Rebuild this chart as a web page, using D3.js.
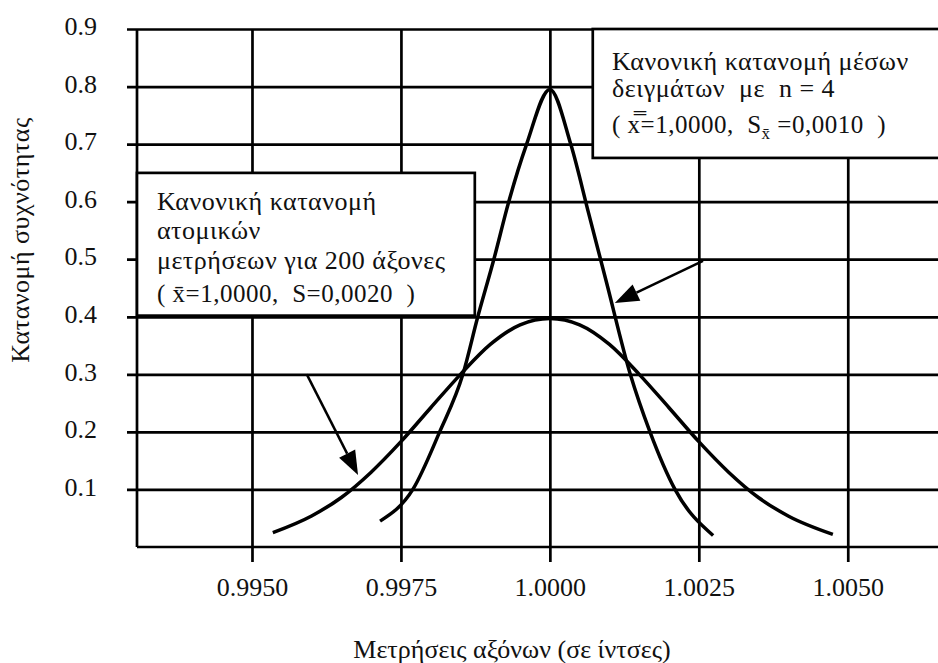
<!DOCTYPE html>
<html>
<head>
<meta charset="utf-8">
<script src="https://cdn.jsdelivr.net/npm/d3@7.9.0/dist/d3.min.js"></script>
<style>
  html, body { margin: 0; padding: 0; background: #fff; }
  svg text { font-family: "Liberation Serif", "Times New Roman", "DejaVu Serif", serif !important; white-space: pre; }
</style>
</head>
<body>
<svg id="chart" width="938" height="663"></svg>
<script>
// tick values
const xTicks = [0.9950, 0.9975, 1.0000, 1.0025, 1.0050];
const yTicks = [0.1, 0.2, 0.3, 0.4, 0.5, 0.6, 0.7, 0.8, 0.9];

// wide curve: individual measurements (S = 0.0020)
const wideX = [0.99535, 0.9960, 0.9965, 0.9970, 0.9975, 0.9980, 0.9985, 0.9990, 0.9995, 1.0000,
               1.0005, 1.0010, 1.0015, 1.0020, 1.0025, 1.0030, 1.0035, 1.0040, 1.00475];
const wideY = [0.025, 0.054, 0.086, 0.13, 0.183, 0.242, 0.30, 0.352, 0.386, 0.397,
               0.386, 0.352, 0.30, 0.242, 0.183, 0.13, 0.086, 0.054, 0.022];

// narrow curve: sample means, n = 4 (S = 0.0010)
const narrowX = [0.99715, 0.99770, 0.99815, 0.99854, 0.99879, 0.99906, 0.99931, 0.99961, 1.0000,
                 1.00035, 1.00065, 1.00095, 1.00135, 1.00168, 1.0021, 1.00274];
const narrowY = [0.045, 0.10, 0.20, 0.30, 0.40, 0.50, 0.60, 0.70, 0.795,
                 0.70, 0.58, 0.46, 0.30, 0.20, 0.10, 0.02];

// arrows [fromX, fromY, toX, toY] in data units
const arrowNarrow = [1.00257, 0.497, 1.00109, 0.424];
const arrowWide = [0.99592, 0.300, 0.99678, 0.125];

const svg = d3.select("#chart");

const x = d3.scaleLinear().domain([0.99307, 1.0068]).range([137, 955]);
const y = d3.scaleLinear().domain([0, 0.9]).range([547, 29]);

const ink = "#000";

// horizontal grid + y labels
const yAxis = svg.append("g")
  .attr("transform", "translate(127,0)")
  .call(d3.axisLeft(y).tickValues(yTicks).tickSize(-(955 - 127)).tickPadding(30)
    .tickFormat(d3.format(".1f")));
yAxis.select(".domain").remove();
yAxis.selectAll("line").attr("stroke", ink).attr("stroke-width", 2.7);
yAxis.selectAll("text")
  .attr("fill", "#111")
  .attr("font-size", "26px")
  .attr("dy", "0.22em");

// vertical grid + x labels
const xAxis = svg.append("g")
  .attr("transform", "translate(0,562)")
  .call(d3.axisBottom(x).tickValues(xTicks).tickSize(-(562 - 29)).tickPadding(16)
    .tickFormat(d3.format(".4f")));
xAxis.select(".domain").remove();
xAxis.selectAll("line").attr("stroke", ink).attr("stroke-width", 2.7);
xAxis.selectAll("text")
  .attr("fill", "#111")
  .attr("font-size", "26px");

// plot frame: left and bottom edges
svg.append("line")
  .attr("x1", x(0.99307)).attr("x2", x(0.99307))
  .attr("y1", y(0.9)).attr("y2", y(0))
  .attr("stroke", ink).attr("stroke-width", 2.7);
svg.append("line")
  .attr("x1", x(0.99307)).attr("x2", 955)
  .attr("y1", y(0)).attr("y2", y(0))
  .attr("stroke", ink).attr("stroke-width", 2.7);

// curves
const line = d3.line()
  .x(d => x(d[0]))
  .y(d => y(d[1]))
  .curve(d3.curveMonotoneX);

svg.append("path")
  .datum(wideX.map((v, i) => [v, wideY[i]]))
  .attr("fill", "none")
  .attr("stroke", ink)
  .attr("stroke-width", 3.5)
  .attr("d", line);

svg.append("path")
  .datum(narrowX.map((v, i) => [v, narrowY[i]]))
  .attr("fill", "none")
  .attr("stroke", ink)
  .attr("stroke-width", 3.5)
  .attr("d", line);

// annotation boxes
function box(x0, y0, x1, y1) {
  svg.append("rect")
    .attr("x", x(x0)).attr("y", y(y0))
    .attr("width", x(x1) - x(x0)).attr("height", y(y1) - y(y0))
    .attr("fill", "#fff")
    .attr("stroke", ink)
    .attr("stroke-width", 2.7);
}
box(1.00072, 0.9, 1.0068, 0.676);
box(0.99307, 0.650, 0.99874, 0.402);

function label(px, py, str, size) {
  return svg.append("text")
    .attr("x", px).attr("y", py)
    .attr("fill", "#111")
    .attr("font-size", (size || 26) + "px")
    .attr("letter-spacing", "0.5px")
    .text(str);
}

// right box text
label(612, 70, "Κανονική κατανομή μέσων");
label(612, 97, "δειγμάτων  με  n = 4");
const t1 = label(612, 133, "( ", 25);
t1.append("tspan").text("x\u033F");
t1.append("tspan").text("=1,0000,  S");
t1.append("tspan").attr("font-size", "17px").attr("dy", 6).text("x\u0304");
t1.append("tspan").attr("dy", -6).text(" =0,0010  )");

// left box text
label(157, 210, "Κανονική κατανομή");
label(157, 239, "ατομικών");
label(157, 269, "μετρήσεων για 200 άξονες");
const t2 = label(157, 302, "( ", 25);
t2.append("tspan").text("x\u0304");
t2.append("tspan").text("=1,0000,  S=0,0020  )");

// arrows
function arrow(a) {
  const x0 = x(a[0]), y0 = y(a[1]), x1 = x(a[2]), y1 = y(a[3]);
  const ang = Math.atan2(y1 - y0, x1 - x0);
  const len = 24, half = 9;
  const bx = x1 - len * Math.cos(ang), by = y1 - len * Math.sin(ang);
  svg.append("line")
    .attr("x1", x0).attr("y1", y0).attr("x2", bx).attr("y2", by)
    .attr("stroke", ink).attr("stroke-width", 2.5);
  svg.append("path")
    .attr("d", `M${x1},${y1}L${bx - half * Math.sin(ang)},${by + half * Math.cos(ang)}` +
      `L${bx + half * Math.sin(ang)},${by - half * Math.cos(ang)}Z`)
    .attr("fill", ink);
}
arrow(arrowNarrow);
arrow(arrowWide);

// axis titles
svg.append("text")
  .attr("x", 512).attr("y", 658)
  .attr("text-anchor", "middle")
  .attr("fill", "#111")
  .attr("font-size", "26px")
  .text("Μετρήσεις αξόνων (σε ίντσες)");

svg.append("text")
  .attr("transform", "translate(29,240) rotate(-90)")
  .attr("text-anchor", "middle")
  .attr("fill", "#111")
  .attr("font-size", "26px")
  .attr("letter-spacing", "0.5px")
  .text("Κατανομή συχνότητας");
</script>
</body>
</html>
